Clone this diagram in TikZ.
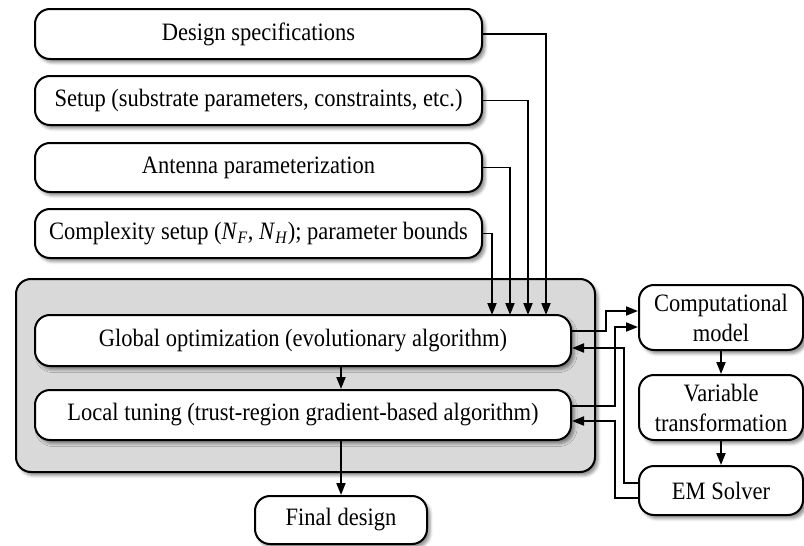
\documentclass[tikz,border=0pt]{standalone}
\usepackage{fontspec}
\setmainfont{Liberation Serif}[FakeStretch=0.9]
\usetikzlibrary{arrows.meta,shadows.blur}
\definecolor{panelgray}{HTML}{D9D9D9}
\tikzset{
  txt/.style={font=\fontsize{25}{30}\selectfont},
  shd/.style={blur shadow={shadow xshift=3pt, shadow yshift=-3.5pt, shadow blur radius=3pt, shadow opacity=45}},
  box/.style={txt, draw=black, line width=2pt, fill=white, rounded corners=15pt, inner sep=0pt, align=center, shd},
  panel/.style={draw=black, line width=2pt, fill=panelgray, rounded corners=15pt, inner sep=0pt, shd},
  arr/.style={line width=1.8pt, -{Triangle[length=12pt,width=9pt]}},
}
\begin{document}
\begin{tikzpicture}[x=1pt,y=-1pt]
\useasboundingbox (0,0) rectangle (804,546);
% top boxes
\node[box, minimum width=447pt, minimum height=50pt] (ds) at (258.5,34) {Design specifications};
\node[box, minimum width=447pt, minimum height=49pt] (su) at (258.5,100.5) {Setup (substrate parameters, constraints, etc.)};
\node[box, minimum width=447pt, minimum height=49pt] (ap) at (258.5,167.5) {Antenna parameterization};
\node[box, minimum width=447pt, minimum height=49pt] (cs) at (258.5,233.5) {Complexity setup (\textit{N}\textsubscript{\textit{F}}, \textit{N}\textsubscript{\textit{H}}); parameter bounds};
% panel
\node[panel, minimum width=579pt, minimum height=193pt] (pn) at (305.5,375.5) {};
\node[box, minimum width=536pt, minimum height=51pt] (go) at (303,340.5) {Global optimization (evolutionary algorithm)};
\node[box, minimum width=536pt, minimum height=50pt] (lt) at (303,415) {Local tuning (trust-region gradient-based algorithm)};
\node[box, minimum width=172pt, minimum height=48pt] (fd) at (341,520) {Final design};
% right column
\node[box, minimum width=164pt, minimum height=65pt] (cm) at (721,317.5) {Computational\\model};
\node[box, minimum width=164pt, minimum height=65pt] (vt) at (721,407.5) {Variable\\transformation};
\node[box, minimum width=164pt, minimum height=49pt] (em) at (721,490.5) {EM Solver};
% input junctions
\coordinate (i1) at (546,315);
\coordinate (i2) at (528,315);
\coordinate (i3) at (510,315);
\coordinate (i4) at (492,315);
\draw[arr] (ds.east) -| (i1);
\draw[arr] (su.east) -| (i2);
\draw[arr] (ap.east) -| (i3);
\draw[arr] (cs.east) -| (i4);
% internal flow
\draw[arr] (go.south -| fd.north) -- (lt.north -| fd.north);
\draw[arr] (lt.south -| fd.north) -- (fd.north);
\draw[arr] (cm.south) -- (vt.north);
\draw[arr] (vt.south) -- (em.north);
% loops
\coordinate (g1) at (606,331);
\coordinate (g2) at (606,311);
\coordinate (l1) at (615,406);
\coordinate (l2) at (615,327);
\coordinate (e1) at (624,483);
\coordinate (e2) at (624,348);
\coordinate (e3) at (615,498);
\coordinate (e4) at (615,421);
\draw[arr] (go.east |- g1) -- (g1) |- (cm.west |- g2);
\draw[arr] (lt.east |- l1) -- (l1) |- (cm.west |- l2);
\draw[arr] (em.west |- e1) -- (e1) |- (go.east |- e2);
\draw[arr] (em.west |- e3) -- (e3) |- (lt.east |- e4);
\end{tikzpicture}
\end{document}
